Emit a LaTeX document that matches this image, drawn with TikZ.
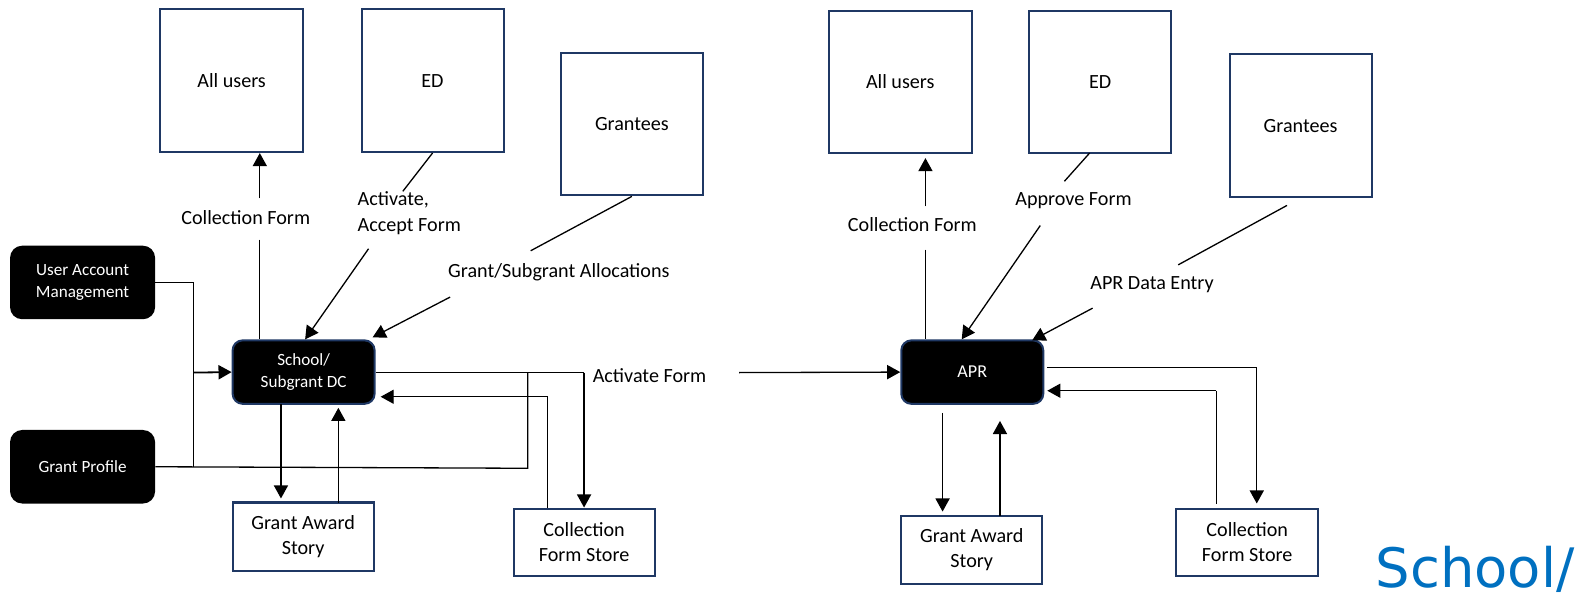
\documentclass[tikz,border=0pt]{standalone}
\usepackage{fontspec}
\setmainfont{Carlito}
\newfontfamily\dejavu{DejaVu Sans}
\usetikzlibrary{arrows.meta}
\definecolor{navy}{HTML}{1F3864}
\definecolor{sblue}{HTML}{0070C0}
\tikzset{
  ln/.style={line width=1.3pt, draw=black},
  arr/.style={ln, -{Triangle[length=13pt,width=14pt]}},
  extbox/.style={draw=navy, line width=2pt, fill=white, inner sep=0pt,
     font=\fontsize{20}{25}\selectfont, align=center},
  blackbox/.style={draw=navy, line width=2pt, fill=black, text=white, rounded corners=10pt,
     inner sep=0pt, font=\fontsize{17}{22}\selectfont, align=center},
  sidebox/.style={fill=black, text=white, rounded corners=12pt, inner sep=0pt,
     minimum width=144pt, minimum height=73pt, font=\fontsize{17}{22}\selectfont, align=center},
  lbl/.style={font=\fontsize{20}{26}\selectfont, inner sep=0pt},
}
\begin{document}
\begin{tikzpicture}[x=1pt,y=-1pt]
\useasboundingbox (0,0) rectangle (1568,588);
% ---------------- left part ----------------
\node[extbox, minimum width=142pt, minimum height=142pt] (Lall) at (230,80) {All users};
\node[extbox, minimum width=141pt, minimum height=142pt] (Led) at (429.5,80) {ED};
\node[extbox, minimum width=141pt, minimum height=141pt] (Lgr) at (627.5,123.5) {Grantees};
\node[sidebox] (uam) at (82,280.5) {User Account\\Management};
\node[sidebox] (gp) at (82,463.5) {Grant Profile};
\node[blackbox, minimum width=141pt, minimum height=63pt] (Lsch) at (301.5,369.5) {School/\\Subgrant DC};
\node[extbox, minimum width=140pt, minimum height=68pt] (Lgas) at (301,533) {Grant Award\\Story};
\node[extbox, minimum width=140pt, minimum height=67pt] (Lcfs) at (580,538.5) {Collection\\Form Store};

\node[lbl] (Llcf) at (244,216) {Collection Form};
\node[lbl, align=left, anchor=west] (Llact) at (355,212) {Activate,\\Accept Form};
\node[lbl] (Llgsa) at (555,270) {Grant/Subgrant Allocations};
\node[lbl] (Llaf) at (645,373) {Activate Form};

% coordinates for connector ends
\coordinate (a1) at (258,197);
\coordinate (a2) at (258,238);
\coordinate (b1) at (400,190);
\coordinate (b2) at (366,247);
\coordinate (b3) at (303,337);
\coordinate (g1) at (527,249);
\coordinate (g2) at (447,295);
\coordinate (g3) at (370,335);
\coordinate (j1) at (192,370);
\coordinate (j2) at (524,465);
\coordinate (s1) at (580,370);
\coordinate (r1) at (544,394);
\coordinate (r2) at (378,394);
\coordinate (af1) at (734,370);
\coordinate (k1) at (279,401);
\coordinate (k2) at (279,495);
\coordinate (k3) at (336,499);
\coordinate (k4) at (336,405);

\draw[arr] (a1) -- (a1 |- Lall.south);
\draw[ln] (a2) -- (a2 |- Lsch.north);
\draw[ln] (Led.south) -- (b1);
\draw[arr] (b2) -- (b3);
\draw[ln] (Lgr.south) -- (g1);
\draw[arr] (g2) -- (g3);
\draw[ln] (uam.east) -- (uam.east -| j1) -- (gp.east -| j1);
\draw[ln] (gp.east) -- (j2) -- (j2 |- j1);
\draw[arr, line width=1.8pt] (j1) -- (Lsch.west);
\draw[ln] (Lsch.east |- s1) -- (s1);
\draw[arr] (s1) -- (s1 |- Lcfs.north);
\draw[ln] (r1 |- Lcfs.north) -- (r1);
\draw[arr] (r1) -- (r2);
\draw[arr] (k1) -- (k2);
\draw[arr] (k3) -- (k4);

% ---------------- right part ----------------
\node[extbox, minimum width=142pt, minimum height=141pt] (Rall) at (894,81.5) {All users};
\node[extbox, minimum width=141pt, minimum height=141pt] (Red) at (1092.5,81.5) {ED};
\node[extbox, minimum width=141pt, minimum height=142pt] (Rgr) at (1291.5,125) {Grantees};
\node[blackbox, minimum width=141pt, minimum height=63pt, font=\fontsize{18}{22}\selectfont] (apr) at (965.5,369.5) {APR};
\node[extbox, minimum width=140pt, minimum height=68pt] (Rgas) at (965,546) {Grant Award\\Story};
\node[extbox, minimum width=141pt, minimum height=67pt] (Rcfs) at (1238.5,538.5) {Collection\\Form Store};

\node[lbl] (Rlcf) at (906,223) {Collection Form};
\node[lbl] (Rlap) at (1066,199) {Approve Form};
\node[lbl] (Rlde) at (1144,283) {APR Data Entry};

\coordinate (c1) at (919,205);
\coordinate (c2) at (919,248);
\coordinate (c3) at (919,157);
\coordinate (d1) at (1082,152);
\coordinate (d2) at (1057,180);
\coordinate (d3) at (1033,224);
\coordinate (d4) at (955,337);
\coordinate (e1) at (1278,204);
\coordinate (e2) at (1170,263);
\coordinate (e3) at (1085,306);
\coordinate (e4) at (1025,338);
\coordinate (f0) at (1040,365);
\coordinate (f1) at (1248,365);
\coordinate (f2) at (1248,500);
\coordinate (h0) at (1208,500);
\coordinate (h1) at (1208,388);
\coordinate (h2) at (1040,388);
\coordinate (m1) at (936,410);
\coordinate (m2) at (936,508);
\coordinate (m3) at (993,512);
\coordinate (m4) at (993,418);

\draw[arr] (af1) -- (apr.west);
\draw[arr] (c1) -- (c3);
\draw[ln] (c2) -- (c2 |- apr.north);
\draw[ln] (d1) -- (d2);
\draw[arr] (d3) -- (d4);
\draw[ln] (e1) -- (e2);
\draw[arr] (e3) -- (e4);
\draw[ln] (f0) -- (f1);
\draw[arr] (f1) -- (f2);
\draw[ln] (h0) -- (h1);
\draw[arr] (h1) -- (h2);
\draw[arr] (m1) -- (m2);
\draw[arr] (m3) -- (m4);

% ---------------- clipped title fragment ----------------
\node[anchor=base west, inner sep=0pt, text=sblue, font=\dejavu\fontsize{54}{60}\selectfont] (frag) at (1366,583) {School/};
\end{tikzpicture}
\end{document}
